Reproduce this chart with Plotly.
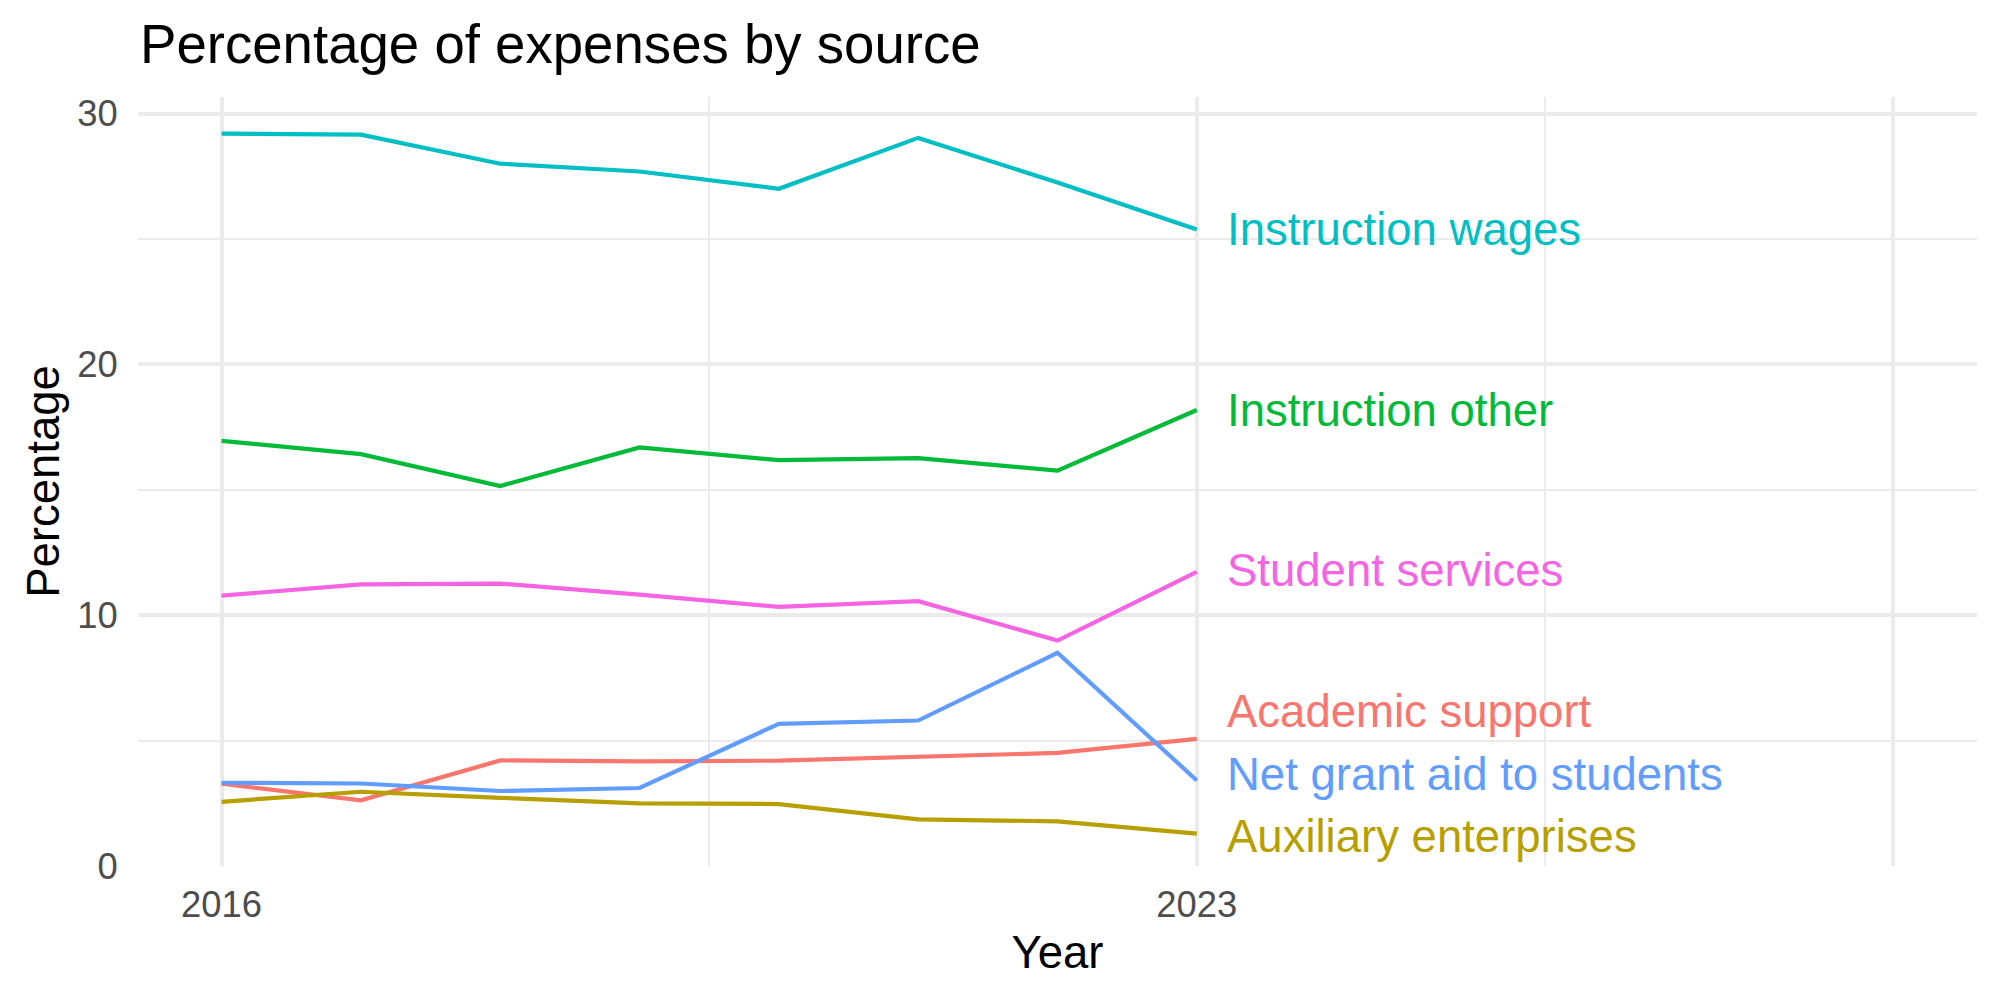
import plotly.graph_objects as go

years = [2016, 2017, 2018, 2019, 2020, 2021, 2022, 2023]

academic_support = [3.28, 2.62, 4.21, 4.17, 4.20, 4.37, 4.51, 5.07]
auxiliary_enterprises = [2.56, 2.96, 2.72, 2.50, 2.47, 1.86, 1.78, 1.29]
instruction_other = [16.95, 16.42, 15.15, 16.69, 16.18, 16.26, 15.76, 18.18]
instruction_wages = [29.20, 29.16, 28.00, 27.69, 27.00, 29.03, 27.25, 25.38]
net_grant_aid = [3.32, 3.29, 2.99, 3.11, 5.67, 5.80, 8.50, 3.41]
student_services = [10.78, 11.23, 11.26, 10.82, 10.33, 10.56, 8.99, 11.73]

series_names = ["Academic support", "Auxiliary enterprises", "Instruction other",
                "Instruction wages", "Net grant aid to students", "Student services"]
series_values = [academic_support, auxiliary_enterprises, instruction_other,
                 instruction_wages, net_grant_aid, student_services]
series_colors = ["#F8766D", "#B79F00", "#00BA38", "#00BFC4", "#619CFF", "#F564E3"]

# label positions (repelled near the 2023 end)
label_x = 2023.2
label_y = [6.15, 1.16, 18.18, 25.38, 3.65, 11.78]

x_tickvals = [2016, 2023, 2028]
x_ticktext = ["2016", "2023", ""]
x_minor = [2019.5, 2025.5]
y_tickvals = [0, 10, 20, 30]
y_minor = [5, 15, 25]

FONT = "Liberation Sans, Arial, Helvetica, sans-serif"

fig = go.Figure()
for name, vals, col in zip(series_names, series_values, series_colors):
    fig.add_trace(go.Scatter(x=years, y=vals, mode="lines", name=name,
                             line=dict(color=col, width=4.2), showlegend=False))

for name, ly, col in zip(series_names, label_y, series_colors):
    fig.add_annotation(x=label_x, y=ly, xref="x", yref="y", text=name,
                       showarrow=False, xanchor="left", yanchor="middle",
                       font=dict(family=FONT, size=45.5, color=col))

fig.update_layout(
    width=2000, height=1000,
    margin=dict(l=138, r=23, t=97, b=134),
    paper_bgcolor="white", plot_bgcolor="white",
    font=dict(family=FONT, color="black"),
    title=dict(text="Percentage of expenses by source", x=0.07, xref="container",
               xanchor="left", y=0.956, yref="container", yanchor="middle",
               font=dict(family=FONT, size=54.6, color="black")),
    xaxis=dict(range=[2015.4, 2028.6], tickmode="array", tickvals=x_tickvals,
               ticktext=x_ticktext, showgrid=True, gridcolor="#EBEBEB", gridwidth=4.4,
               zeroline=False, showline=False, ticks="outside", ticklen=6,
               tickcolor="rgba(0,0,0,0)",
               tickfont=dict(family=FONT, size=36.4, color="#4D4D4D"),
               minor=dict(tickmode="array", tickvals=x_minor, showgrid=True,
                          gridcolor="#EBEBEB", gridwidth=2.2, ticks=""),
               title=dict(text="Year", standoff=12,
                          font=dict(family=FONT, size=45.5, color="black"))),
    yaxis=dict(range=[0, 30.66], tickmode="array", tickvals=y_tickvals,
               showgrid=True, gridcolor="#EBEBEB", gridwidth=4.4,
               zeroline=False, showline=False, ticks="outside", ticklen=12,
               tickcolor="rgba(0,0,0,0)",
               tickfont=dict(family=FONT, size=36.4, color="#4D4D4D"),
               minor=dict(tickmode="array", tickvals=y_minor, showgrid=True,
                          gridcolor="#EBEBEB", gridwidth=2.2, ticks=""),
               title=dict(text="Percentage", standoff=3,
                          font=dict(family=FONT, size=45.5, color="black"))),
)

fig.write_html("out.html")
